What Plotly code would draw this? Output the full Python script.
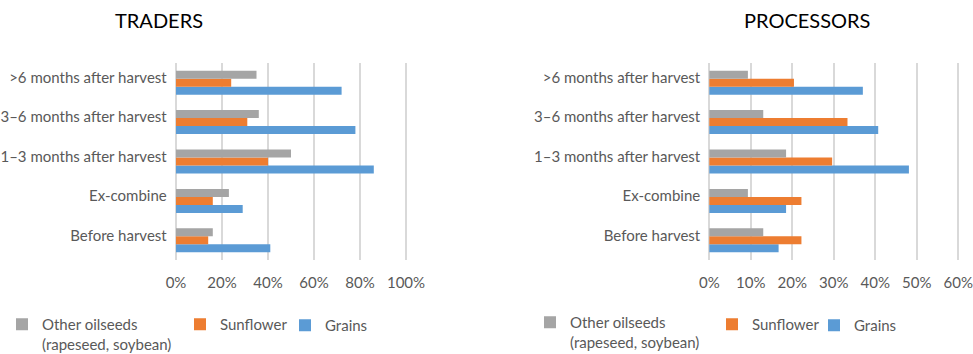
import plotly.graph_objects as go

# Categories listed bottom-to-top as they appear on the y axis
stages = ["Before harvest", "Ex-combine", "1–3 months after harvest",
          "3–6 months after harvest", ">6 months after harvest"]

# Traders (% of respondents)
traders_grains = [41, 29, 86, 78, 72]
traders_sunflower = [14, 16, 40, 31, 24]
traders_other = [16, 23, 50, 36, 35]

# Processors (% of respondents)
proc_grains = [16.7, 18.5, 48.1, 40.7, 37.0]
proc_sunflower = [22.2, 22.2, 29.6, 33.3, 20.4]
proc_other = [13.0, 9.3, 18.5, 13.0, 9.3]

series_names = ["Grains", "Sunflower", "Other oilseeds<br>(rapeseed, soybean)"]
series_colors = ["#5B9BD5", "#ED7D31", "#A5A5A5"]

FONT = "Lato"
GRAY_TXT = "#595959"
W, H = 973, 354

fig = go.Figure()

# Each legend entry sits in its own legend box so entries can be spaced freely
panels = [
    ("x", "y", ["legend3", "legend2", "legend"],
     [traders_grains, traders_sunflower, traders_other]),
    ("x2", "y2", ["legend6", "legend5", "legend4"],
     [proc_grains, proc_sunflower, proc_other]),
]
for xa, ya, legs, values in panels:
    for name, color, leg, vals in zip(series_names, series_colors, legs, values):
        fig.add_trace(go.Bar(
            y=stages, x=vals, orientation="h", name=name,
            marker=dict(color=color, line=dict(width=0)),
            xaxis=xa, yaxis=ya, legend=leg,
            hovertemplate="%{y}: %{x:.0f}%<extra></extra>",
        ))

y_dom = [(H - 260) / H, (H - 63) / H]
axis_font = dict(family=FONT, size=15, color=GRAY_TXT)
grid = dict(showgrid=True, gridcolor="#D9D9D9", gridwidth=2, zeroline=False,
            showline=False, ticks="", ticksuffix="%", tickfont=axis_font,
            ticklabelstandoff=12, ticklabeloverflow="allow",
            automargin=False, fixedrange=True)
cat = dict(type="category", categoryorder="array", categoryarray=stages,
           showgrid=False, zeroline=False, showline=False, ticks="",
           ticklabelstandoff=6, ticklabelshift=-5, tickfont=axis_font,
           automargin=False, fixedrange=True)

legend_common = dict(orientation="h", yanchor="top", xanchor="left",
                     font=dict(family=FONT, size=15, color=GRAY_TXT),
                     bgcolor="rgba(0,0,0,0)", valign="top",
                     itemclick=False, itemdoubleclick=False)

legend_x = {"legend": 2, "legend2": 180, "legend3": 285,
            "legend4": 530, "legend5": 712, "legend6": 814}
legend_top = {"legend": 308, "legend2": 308, "legend3": 309,
              "legend4": 306, "legend5": 308, "legend6": 309}
legends = {k: dict(x=legend_x[k] / W, y=1 - legend_top[k] / H, **legend_common)
           for k in legend_x}

title_font = dict(family=FONT, size=20, color="#000000")

# Axis ranges are padded slightly so the first and last gridlines stay inside
# the plot area; domains are widened by the same pixel amount.
left_px = 230 / 100     # pixels per percentage point, traders panel
right_px = 249 / 60     # pixels per percentage point, processors panel
lpad, rpad = 1.0, 0.5

fig.update_layout(
    width=W, height=H,
    margin=dict(l=0, r=0, t=0, b=0, autoexpand=False),
    paper_bgcolor="white", plot_bgcolor="white",
    barmode="group", bargap=0.39, bargroupgap=0,
    showlegend=True,
    xaxis=dict(domain=[(176 - lpad * left_px) / W, (406 + lpad * left_px) / W],
               range=[-lpad, 100 + lpad], dtick=20, anchor="y", **grid),
    yaxis=dict(domain=y_dom, anchor="x", **cat),
    xaxis2=dict(domain=[(709.3 - rpad * right_px) / W, (958.3 + rpad * right_px) / W],
                range=[-rpad, 60 + rpad], dtick=10, tick0=0, anchor="y2", **grid),
    yaxis2=dict(domain=y_dom, anchor="x2", **cat),
    annotations=[
        dict(text="TRADERS", x=159 / W, y=1 - 20 / H, xref="paper", yref="paper",
             showarrow=False, xanchor="center", yanchor="middle", font=title_font),
        dict(text="PROCESSORS", x=806.5 / W, y=1 - 20 / H, xref="paper", yref="paper",
             showarrow=False, xanchor="center", yanchor="middle", font=title_font),
    ],
    **legends,
)

fig.write_html("out.html")
